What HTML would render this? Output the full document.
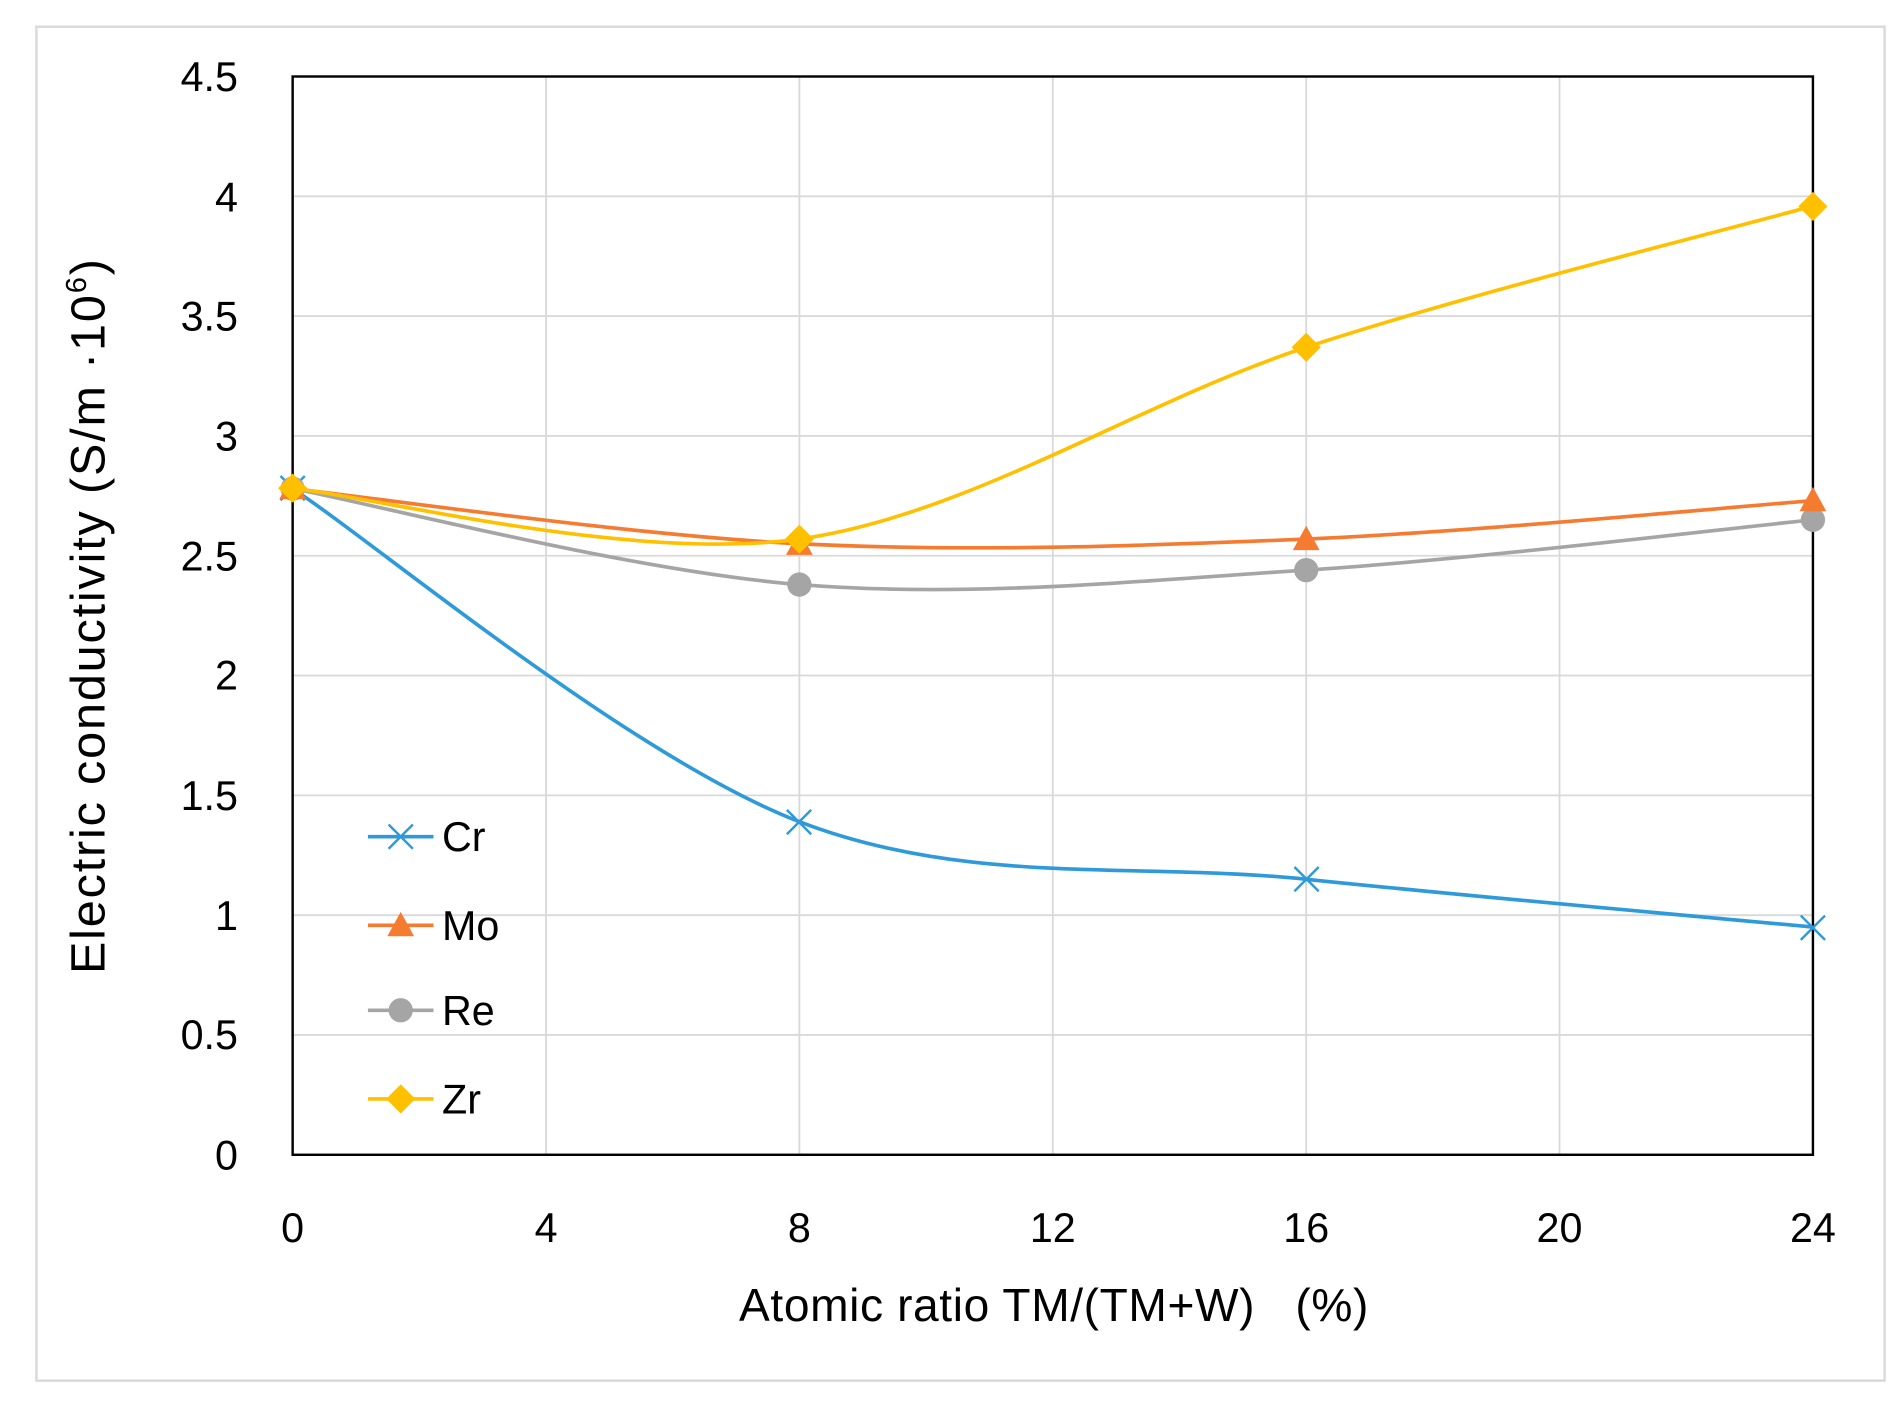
<!DOCTYPE html>
<html><head><style>html,body{margin:0;padding:0;background:#fff}svg{display:block}</style></head>
<body>
<svg width="1904" height="1419" viewBox="0 0 1568 1168.6" preserveAspectRatio="none" xmlns="http://www.w3.org/2000/svg" font-family="Liberation Sans, sans-serif">
<rect x="0" y="0" width="1568" height="1169" fill="#fff"/>
<rect x="30" y="22" width="1522" height="1115" fill="none" stroke="#d9d9d9" stroke-width="2"/>
<g stroke="#d9d9d9" stroke-width="1.5">
<line x1="449.7" y1="63" x2="449.7" y2="951"/><line x1="658.3" y1="63" x2="658.3" y2="951"/>
<line x1="867" y1="63" x2="867" y2="951"/><line x1="1075.7" y1="63" x2="1075.7" y2="951"/>
<line x1="1284.3" y1="63" x2="1284.3" y2="951"/>
<line x1="241" y1="852.3" x2="1493" y2="852.3"/><line x1="241" y1="753.7" x2="1493" y2="753.7"/>
<line x1="241" y1="655" x2="1493" y2="655"/><line x1="241" y1="556.3" x2="1493" y2="556.3"/>
<line x1="241" y1="457.7" x2="1493" y2="457.7"/><line x1="241" y1="359" x2="1493" y2="359"/>
<line x1="241" y1="260.3" x2="1493" y2="260.3"/><line x1="241" y1="161.7" x2="1493" y2="161.7"/>
</g>
<rect x="241" y="63" width="1252" height="888" fill="none" stroke="#000" stroke-width="2"/>
<g font-size="34" fill="#000" text-anchor="end">
<text x="196" y="963">0</text><text x="196" y="864">0.5</text><text x="196" y="766">1</text>
<text x="196" y="667">1.5</text><text x="196" y="568">2</text><text x="196" y="470">2.5</text>
<text x="196" y="371">3</text><text x="196" y="272">3.5</text><text x="196" y="174">4</text><text x="196" y="75">4.5</text>
</g>
<g font-size="34" fill="#000" text-anchor="middle">
<text x="241" y="1023">0</text><text x="449.7" y="1023">4</text><text x="658.3" y="1023">8</text>
<text x="867" y="1023">12</text><text x="1075.7" y="1023">16</text><text x="1284.3" y="1023">20</text><text x="1493" y="1023">24</text>
<text x="868" y="1088" font-size="38" letter-spacing="0.5" xml:space="preserve">Atomic ratio TM/(TM+W)   (%)</text>
</g>
<text transform="translate(86,507) rotate(-90)" font-size="40" letter-spacing="1.5" text-anchor="middle">Electric conductivity (S/m ·10<tspan font-size="24" dy="-15">6</tspan><tspan dy="15">)</tspan></text>
<g fill="none" stroke-width="3">
<path stroke="#2e9ad9" d="M241,402.4 C310.6,448.1 519.2,623.1 658.3,676.7 C797.4,730.3 936.6,709.6 1075.7,724.1 C1214.8,738.6 1423.4,756.9 1493,763.5"/>
<path stroke="#a5a5a5" d="M241,402.4 C310.6,415.6 519.2,470.2 658.3,481.4 C797.4,492.6 936.6,478.4 1075.7,469.5 C1214.8,460.6 1423.4,435 1493,428.1"/>
<path stroke="#f47b30" d="M241,402.4 C310.6,410 519.2,440.9 658.3,447.8 C797.4,454.7 936.6,449.8 1075.7,443.9 C1214.8,438 1423.4,417.6 1493,412.3"/>
<path stroke="#ffc000" d="M241,402.4 C310.6,409.3 519.2,463.3 658.3,443.9 C797.4,424.5 936.6,331.7 1075.7,286 C1214.8,240.3 1423.4,189 1493,169.6"/>
</g>
<g stroke="#2e9ad9" stroke-width="2">
<path d="M231,392l20,20M251,392l-20,20M648,667l20,20M668,667l-20,20M1066,714l20,20M1086,714l-20,20M1483,754l20,20M1503,754l-20,20"/>
</g>
<g fill="#a5a5a5"><circle cx="241" cy="402.4" r="10"/><circle cx="658.3" cy="481.4" r="10"/><circle cx="1075.7" cy="469.5" r="10"/><circle cx="1493" cy="428.1" r="10"/></g>
<g fill="#f47b30"><path d="M241,391l11,20h-22z M658.3,437l11,20h-22z M1075.7,433l11,20h-22z M1493,401l11,20h-22z"/></g>
<g fill="#ffc000"><path d="M241,390l12,12l-12,12l-12-12z M658.3,432l12,12l-12,12l-12-12z M1075.7,274l12,12l-12,12l-12-12z M1493,158l12,12l-12,12l-12-12z"/></g>
<g stroke-width="3">
<line x1="303" y1="689" x2="357" y2="689" stroke="#2e9ad9"/>
<path d="M320,679l20,20M340,679l-20,20" stroke="#2e9ad9" stroke-width="2"/>
<line x1="303" y1="762" x2="357" y2="762" stroke="#f47b30"/>
<path d="M330,751l11,20h-22z" fill="#f47b30" stroke="none"/>
<line x1="303" y1="832" x2="357" y2="832" stroke="#a5a5a5"/>
<circle cx="330" cy="832" r="10" fill="#a5a5a5" stroke="none"/>
<line x1="303" y1="905" x2="357" y2="905" stroke="#ffc000"/>
<path d="M330,893l12,12l-12,12l-12-12z" fill="#ffc000" stroke="none"/>
</g>
<g font-size="34" fill="#000">
<text x="364" y="701">Cr</text><text x="364" y="774">Mo</text><text x="364" y="844">Re</text><text x="364" y="917">Zr</text>
</g>
</svg>
</body></html>
